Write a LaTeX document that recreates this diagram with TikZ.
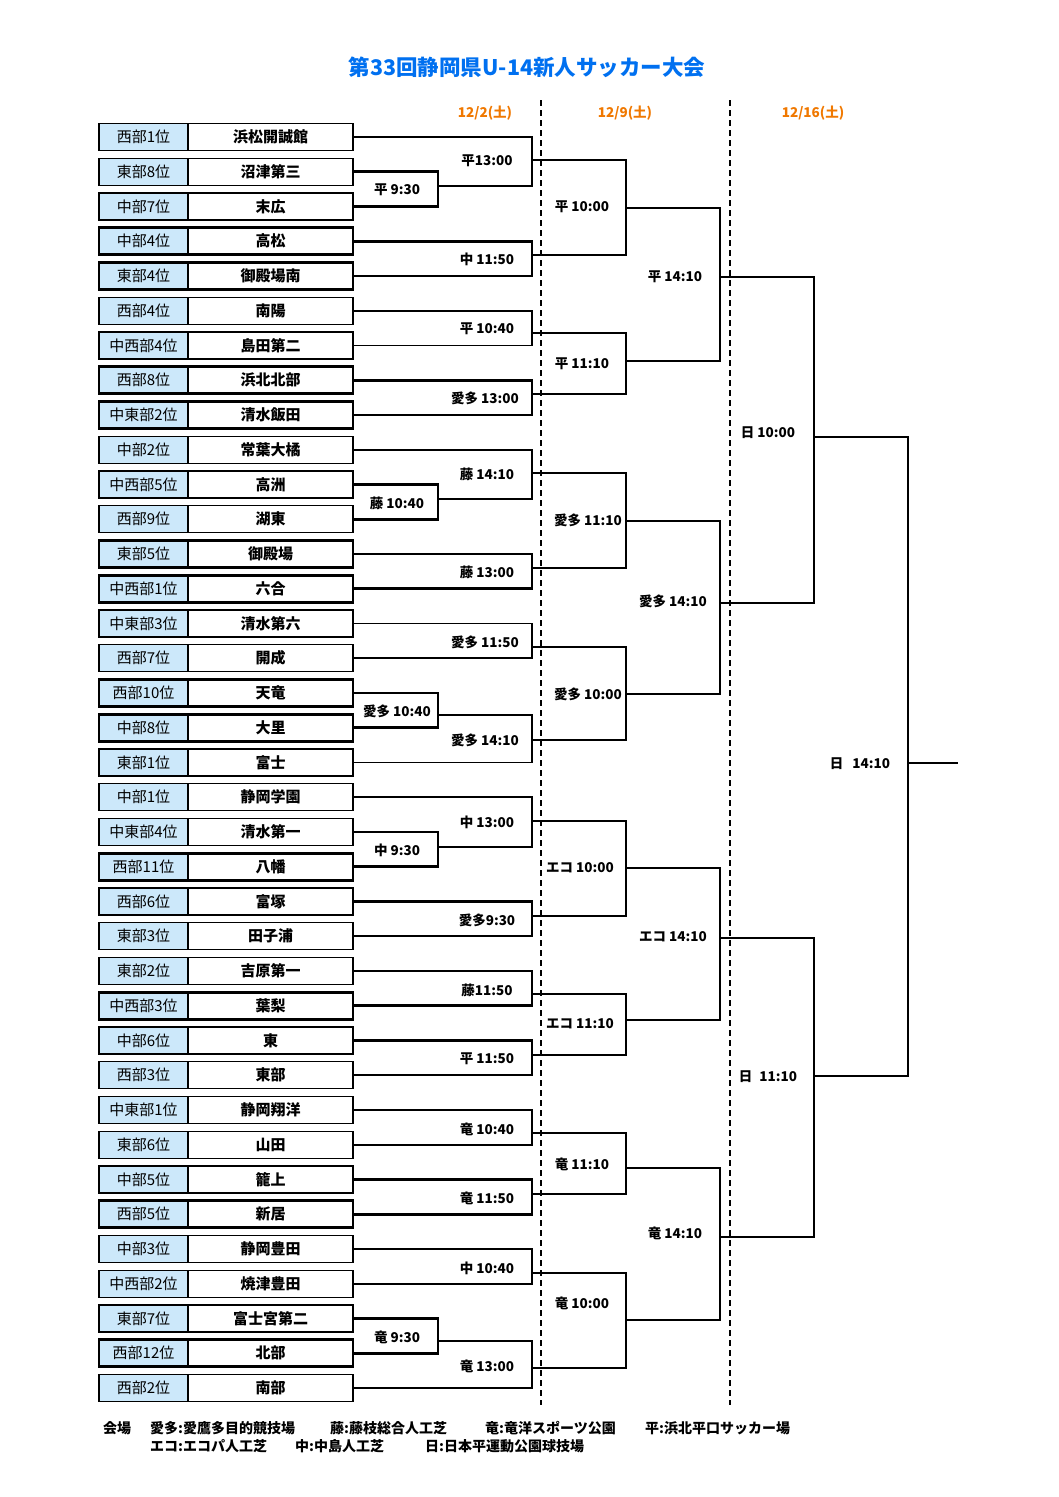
\documentclass[tikz,border=0pt]{standalone}
\usepackage{fontspec}
\setmainfont{Noto Sans CJK JP}
\usetikzlibrary{positioning}
\definecolor{rankblue}{RGB}{204,232,250}
\definecolor{titleblue}{RGB}{0,112,240}
\definecolor{dateorange}{RGB}{240,120,0}

\begin{document}
\begin{tikzpicture}[x=1pt, y=-1pt,
    rank/.style={draw, fill=rankblue, minimum width=89pt, minimum height=27pt, inner sep=0pt, outer sep=0pt, line width=1.4pt, font=\fontsize{15}{15}\selectfont},
    team/.style={draw, fill=white, minimum width=165pt, minimum height=27pt, inner sep=0pt, outer sep=0pt, line width=1.4pt, font=\fontsize{15}{15}\selectfont\bfseries},
    strong/.style={line width=2.6pt},
    wire/.style={line width=1.6pt},
    heavy/.style={line width=2.8pt},
    matchtime/.style={font=\fontsize{13.5}{13.5}\selectfont\bfseries, inner sep=1pt},
    datehead/.style={font=\fontsize{13.5}{13.5}\selectfont\bfseries, text=dateorange},
    venue/.style={font=\fontsize{14}{14}\selectfont\bfseries, anchor=west, inner sep=0pt}]
    \useasboundingbox (0,0) rectangle (1058,1497);

    % title and dates
    \node[font=\fontsize{21.5}{21.5}\selectfont\bfseries, text=titleblue] (title) at (527,67) {第33回静岡県U-14新人サッカー大会};
    \node[datehead] (day1) at (485,113) {12/2(土)};
    \node[datehead] (day2) at (625,113) {12/9(土)};
    \node[datehead] (day3) at (813,113) {12/16(土)};
    \draw[line width=1.8pt, dash pattern=on 6pt off 4pt] (541,100) -- (541,1405);
    \draw[line width=1.8pt, dash pattern=on 6pt off 4pt] (730,100) -- (730,1405);

    % teams
    \node[rank] (r1) at (143.5,137) {西部1位};
    \node[team, right=0pt of r1] (t1) {浜松開誠館};
    \node[rank, below=7.75pt of r1] (r2) {東部8位};
    \node[team, right=0pt of r2] (t2) {沼津第三};
    \node[rank, below=7.75pt of r2] (r3) {中部7位};
    \node[team, right=0pt of r3] (t3) {末広};
    \node[rank, strong, below=7.75pt of r3] (r4) {中部4位};
    \node[team, strong, right=0pt of r4] (t4) {高松};
    \node[rank, strong, below=7.75pt of r4] (r5) {東部4位};
    \node[team, strong, right=0pt of r5] (t5) {御殿場南};
    \node[rank, below=7.75pt of r5] (r6) {西部4位};
    \node[team, right=0pt of r6] (t6) {南陽};
    \node[rank, below=7.75pt of r6] (r7) {中西部4位};
    \node[team, right=0pt of r7] (t7) {島田第二};
    \node[rank, strong, below=7.75pt of r7] (r8) {西部8位};
    \node[team, strong, right=0pt of r8] (t8) {浜北北部};
    \node[rank, strong, below=7.75pt of r8] (r9) {中東部2位};
    \node[team, strong, right=0pt of r9] (t9) {清水飯田};
    \node[rank, below=7.75pt of r9] (r10) {中部2位};
    \node[team, right=0pt of r10] (t10) {常葉大橘};
    \node[rank, below=7.75pt of r10] (r11) {中西部5位};
    \node[team, right=0pt of r11] (t11) {高洲};
    \node[rank, below=7.75pt of r11] (r12) {西部9位};
    \node[team, right=0pt of r12] (t12) {湖東};
    \node[rank, strong, below=7.75pt of r12] (r13) {東部5位};
    \node[team, strong, right=0pt of r13] (t13) {御殿場};
    \node[rank, strong, below=7.75pt of r13] (r14) {中西部1位};
    \node[team, strong, right=0pt of r14] (t14) {六合};
    \node[rank, below=7.75pt of r14] (r15) {中東部3位};
    \node[team, right=0pt of r15] (t15) {清水第六};
    \node[rank, below=7.75pt of r15] (r16) {西部7位};
    \node[team, right=0pt of r16] (t16) {開成};
    \node[rank, strong, below=7.75pt of r16] (r17) {西部10位};
    \node[team, strong, right=0pt of r17] (t17) {天竜};
    \node[rank, strong, below=7.75pt of r17] (r18) {中部8位};
    \node[team, strong, right=0pt of r18] (t18) {大里};
    \node[rank, below=7.75pt of r18] (r19) {東部1位};
    \node[team, right=0pt of r19] (t19) {富士};
    \node[rank, below=7.75pt of r19] (r20) {中部1位};
    \node[team, right=0pt of r20] (t20) {静岡学園};
    \node[rank, below=7.75pt of r20] (r21) {中東部4位};
    \node[team, right=0pt of r21] (t21) {清水第一};
    \node[rank, strong, below=7.75pt of r21] (r22) {西部11位};
    \node[team, strong, right=0pt of r22] (t22) {八幡};
    \node[rank, strong, below=7.75pt of r22] (r23) {西部6位};
    \node[team, strong, right=0pt of r23] (t23) {富塚};
    \node[rank, below=7.75pt of r23] (r24) {東部3位};
    \node[team, right=0pt of r24] (t24) {田子浦};
    \node[rank, below=7.75pt of r24] (r25) {東部2位};
    \node[team, right=0pt of r25] (t25) {吉原第一};
    \node[rank, strong, below=7.75pt of r25] (r26) {中西部3位};
    \node[team, strong, right=0pt of r26] (t26) {葉梨};
    \node[rank, strong, below=7.75pt of r26] (r27) {中部6位};
    \node[team, strong, right=0pt of r27] (t27) {東};
    \node[rank, below=7.75pt of r27] (r28) {西部3位};
    \node[team, right=0pt of r28] (t28) {東部};
    \node[rank, below=7.75pt of r28] (r29) {中東部1位};
    \node[team, right=0pt of r29] (t29) {静岡翔洋};
    \node[rank, below=7.75pt of r29] (r30) {東部6位};
    \node[team, right=0pt of r30] (t30) {山田};
    \node[rank, strong, below=7.75pt of r30] (r31) {中部5位};
    \node[team, strong, right=0pt of r31] (t31) {籠上};
    \node[rank, strong, below=7.75pt of r31] (r32) {西部5位};
    \node[team, strong, right=0pt of r32] (t32) {新居};
    \node[rank, below=7.75pt of r32] (r33) {中部3位};
    \node[team, right=0pt of r33] (t33) {静岡豊田};
    \node[rank, below=7.75pt of r33] (r34) {中西部2位};
    \node[team, right=0pt of r34] (t34) {焼津豊田};
    \node[rank, strong, below=7.75pt of r34] (r35) {東部7位};
    \node[team, strong, right=0pt of r35] (t35) {富士宮第二};
    \node[rank, strong, below=7.75pt of r35] (r36) {西部12位};
    \node[team, strong, right=0pt of r36] (t36) {北部};
    \node[rank, below=7.75pt of r36] (r37) {西部2位};
    \node[team, right=0pt of r37] (t37) {南部};

    % bracket corners
    \coordinate (p1) at (438,186);
    \coordinate (p2) at (438,499);
    \coordinate (p3) at (438,715);
    \coordinate (p4) at (438,847);
    \coordinate (p5) at (438,1341);
    \coordinate (a1) at (532,160);
    \coordinate (a2) at (532,255);
    \coordinate (a3) at (532,333);
    \coordinate (a4) at (532,394);
    \coordinate (a5) at (532,473);
    \coordinate (a6) at (532,568);
    \coordinate (a7) at (532,647);
    \coordinate (a8) at (532,740);
    \coordinate (a9) at (532,821);
    \coordinate (a10) at (532,916);
    \coordinate (a11) at (532,994);
    \coordinate (a12) at (532,1055);
    \coordinate (a13) at (532,1133);
    \coordinate (a14) at (532,1194);
    \coordinate (a15) at (532,1273);
    \coordinate (a16) at (532,1368);
    \coordinate (b1) at (626,208);
    \coordinate (b2) at (626,361);
    \coordinate (b3) at (626,521);
    \coordinate (b4) at (626,694);
    \coordinate (b5) at (626,868);
    \coordinate (b6) at (626,1020);
    \coordinate (b7) at (626,1168);
    \coordinate (b8) at (626,1320);
    \coordinate (c1) at (720,277);
    \coordinate (c2) at (720,603);
    \coordinate (c3) at (720,938);
    \coordinate (c4) at (720,1237);
    \coordinate (d1) at (814,437);
    \coordinate (d2) at (814,1076);
    \coordinate (fin) at (908,763);
    \coordinate (champ) at (958,763);

    % preliminary matches
    \draw[heavy] (t2.east) -| (p1);  \draw[heavy] (p1) |- (t3.east);
    \draw[heavy] (t11.east) -| (p2); \draw[heavy] (p2) |- (t12.east);
    \draw[heavy] (t17.east) -| (p3); \draw[heavy] (p3) |- (t18.east);
    \draw[heavy] (t21.east) -| (p4); \draw[heavy] (p4) |- (t22.east);
    \draw[heavy] (t35.east) -| (p5); \draw[heavy] (p5) |- (t36.east);

    % first round
    \draw[wire] (t1.east) -| (a1);   \draw[wire] (a1) |- (p1);
    \draw[heavy] (t4.east) -| (a2);  \draw[wire] (a2) |- (t5.east);
    \draw[wire] (t6.east) -| (a3);   \draw[wire] (a3) |- (t7.east);
    \draw[heavy] (t8.east) -| (a4);  \draw[wire] (a4) |- (t9.east);
    \draw[wire] (t10.east) -| (a5);  \draw[wire] (a5) |- (p2);
    \draw[heavy] (t13.east) -| (a6); \draw[heavy] (a6) |- (t14.east);
    \draw[wire] (t15.east) -| (a7);  \draw[wire] (a7) |- (t16.east);
    \draw[wire] (p3) -| (a8);        \draw[wire] (a8) |- (t19.east);
    \draw[wire] (t20.east) -| (a9);  \draw[wire] (a9) |- (p4);
    \draw[heavy] (t23.east) -| (a10); \draw[wire] (a10) |- (t24.east);
    \draw[wire] (t25.east) -| (a11); \draw[heavy] (a11) |- (t26.east);
    \draw[heavy] (t27.east) -| (a12); \draw[wire] (a12) |- (t28.east);
    \draw[wire] (t29.east) -| (a13); \draw[wire] (a13) |- (t30.east);
    \draw[heavy] (t31.east) -| (a14); \draw[heavy] (a14) |- (t32.east);
    \draw[wire] (t33.east) -| (a15); \draw[wire] (a15) |- (t34.east);
    \draw[wire] (p5) -| (a16);       \draw[wire] (a16) |- (t37.east);

    % second round
    \draw[wire] (a1) -| (b1);   \draw[heavy] (b1) |- (a2);
    \draw[wire] (a3) -| (b2);   \draw[heavy] (b2) |- (a4);
    \draw[wire] (a5) -| (b3);   \draw[heavy] (b3) |- (a6);
    \draw[wire] (a7) -| (b4);   \draw[wire] (b4) |- (a8);
    \draw[wire] (a9) -| (b5);   \draw[heavy] (b5) |- (a10);
    \draw[wire] (a11) -| (b6);  \draw[heavy] (b6) |- (a12);
    \draw[wire] (a13) -| (b7);  \draw[heavy] (b7) |- (a14);
    \draw[wire] (a15) -| (b8);  \draw[wire] (b8) |- (a16);

    % third round and final
    \draw[wire] (b1) -| (c1);   \draw[wire] (c1) |- (b2);
    \draw[wire] (b3) -| (c2);   \draw[wire] (c2) |- (b4);
    \draw[heavy] (b5) -| (c3);  \draw[wire] (c3) |- (b6);
    \draw[heavy] (b7) -| (c4);  \draw[wire] (c4) |- (b8);
    \draw[wire] (c1) -| (d1);   \draw[wire] (d1) |- (c2);
    \draw[wire] (c3) -| (d2);   \draw[wire] (d2) |- (c4);
    \draw[wire] (d1) -| (fin);  \draw[wire] (fin) |- (d2);
    \draw[wire] (fin) -- (champ);

    % match times
    \node[matchtime] (tp1) at (397,190) {平 9:30};
    \node[matchtime] (tp2) at (397,503) {藤 10:40};
    \node[matchtime] (tp3) at (397,711) {愛多 10:40};
    \node[matchtime] (tp4) at (397,850) {中 9:30};
    \node[matchtime] (tp5) at (397,1337) {竜 9:30};
    \node[matchtime] (ta1) at (487,161) {平13:00};
    \node[matchtime] (ta2) at (487,259) {中 11:50};
    \node[matchtime] (ta3) at (487,329) {平 10:40};
    \node[matchtime] (ta4) at (485,398) {愛多 13:00};
    \node[matchtime] (ta5) at (487,474) {藤 14:10};
    \node[matchtime] (ta6) at (487,572) {藤 13:00};
    \node[matchtime] (ta7) at (485,642) {愛多 11:50};
    \node[matchtime] (ta8) at (485,740) {愛多 14:10};
    \node[matchtime] (ta9) at (487,822) {中 13:00};
    \node[matchtime] (ta10) at (487,920) {愛多9:30};
    \node[matchtime] (ta11) at (487,990) {藤11:50};
    \node[matchtime] (ta12) at (487,1059) {平 11:50};
    \node[matchtime] (ta13) at (487,1129) {竜 10:40};
    \node[matchtime] (ta14) at (487,1198) {竜 11:50};
    \node[matchtime] (ta15) at (487,1268) {中 10:40};
    \node[matchtime] (ta16) at (487,1366) {竜 13:00};
    \node[matchtime] (tb1) at (582,207) {平 10:00};
    \node[matchtime] (tb2) at (582,364) {平 11:10};
    \node[matchtime] (tb3) at (588,520) {愛多 11:10};
    \node[matchtime] (tb4) at (588,694) {愛多 10:00};
    \node[matchtime] (tb5) at (580,868) {エコ 10:00};
    \node[matchtime] (tb6) at (580,1024) {エコ 11:10};
    \node[matchtime] (tb7) at (582,1164) {竜 11:10};
    \node[matchtime] (tb8) at (582,1303) {竜 10:00};
    \node[matchtime] (tc1) at (675,277) {平 14:10};
    \node[matchtime] (tc2) at (673,601) {愛多 14:10};
    \node[matchtime] (tc3) at (673,937) {エコ 14:10};
    \node[matchtime] (tc4) at (675,1233) {竜 14:10};
    \node[matchtime] (td1) at (768,433) {日 10:00};
    \node[matchtime] (td2) at (768,1077) {日\hspace{7pt}11:10};
    \node[matchtime] (tfin) at (860,764) {日\hspace{9pt}14:10};

    % venues
    \node[venue] (v0) at (103,1428) {会場};
    \node[venue] (v1) at (150,1428) {愛多:愛鷹多目的競技場};
    \node[venue] (v2) at (330,1428) {藤:藤枝総合人工芝};
    \node[venue] (v3) at (485,1428) {竜:竜洋スポーツ公園};
    \node[venue] (v4) at (645,1428) {平:浜北平口サッカー場};
    \node[venue] (v5) at (150,1446) {エコ:エコパ人工芝};
    \node[venue] (v6) at (295,1446) {中:中島人工芝};
    \node[venue] (v7) at (425,1446) {日:日本平運動公園球技場};
\end{tikzpicture}
\end{document}
